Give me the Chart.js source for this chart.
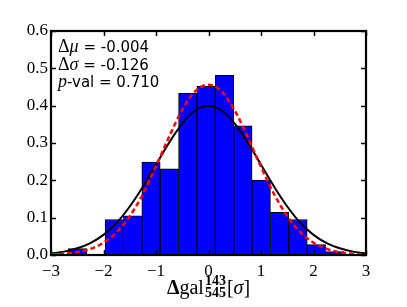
<!DOCTYPE html>
<html>
<head>
<meta charset="utf-8">
<script src="https://cdn.jsdelivr.net/npm/chart.js@4"></script>
<style>
  html, body { margin: 0; padding: 0; background: #fff; }
  #wrap { width: 407px; height: 307px; }
</style>
</head>
<body>
<div id="wrap"><canvas id="hist" width="407" height="307"></canvas></div>
<script>
// histogram bins (centres of 0.35-wide bins) and normalised counts
const binCenters = [-2.495, -2.145, -1.795, -1.445, -1.095, -0.745, -0.395, -0.045, 0.305, 0.655, 1.005, 1.355, 1.705, 2.055, 2.405];
const binHeights = [0.017, 0.0, 0.095, 0.105, 0.249, 0.231, 0.433, 0.452, 0.481, 0.346, 0.201, 0.114, 0.095, 0.028, 0.009];

const curveX = [-3, -2.75, -2.5, -2.25, -2, -1.75, -1.5, -1.25, -1, -0.75, -0.5, -0.25, 0, 0.25, 0.5, 0.75, 1, 1.25, 1.5, 1.75, 2, 2.25, 2.5, 2.75, 3];
const normalY = [0.004, 0.009, 0.018, 0.032, 0.054, 0.086, 0.130, 0.183, 0.242, 0.301, 0.352, 0.387, 0.399, 0.387, 0.352, 0.301, 0.242, 0.183, 0.130, 0.086, 0.054, 0.032, 0.018, 0.009, 0.004];
const fitY = [0.0013, 0.0032, 0.0075, 0.0164, 0.033, 0.061, 0.104, 0.163, 0.238, 0.317, 0.389, 0.439, 0.456, 0.438, 0.387, 0.315, 0.236, 0.163, 0.104, 0.061, 0.033, 0.0164, 0.0075, 0.0032, 0.0013];

const xTicks = [-3, -2, -1, 0, 1, 2, 3];
const yTicks = [0.0, 0.1, 0.2, 0.3, 0.4, 0.5, 0.6];
const statLines = [
    { sym: "\u0394", it: "\u03bc", rest: " = -0.004" },
    { sym: "\u0394", it: "\u03c3", rest: " = -0.126" },
    { sym: "", it: "p", rest: "-val = 0.710" }
];

const serif = "Liberation Serif";
const sans = "DejaVu Sans";

const frameAndText = {
    id: "frameAndText",
    afterDraw(chart) {
        const ctx = chart.ctx;
        const a = chart.chartArea;
        const xs = chart.scales.x, ys = chart.scales.y;
        ctx.save();
        // inward ticks on all sides
        ctx.strokeStyle = "#000";
        ctx.lineWidth = 1.5;
        ctx.beginPath();
        xTicks.forEach(v => {
            const px = Math.round(xs.getPixelForValue(v)) + 0.5;
            ctx.moveTo(px, a.bottom); ctx.lineTo(px, a.bottom - 5);
            ctx.moveTo(px, a.top); ctx.lineTo(px, a.top + 5);
        });
        yTicks.forEach(v => {
            const py = Math.round(ys.getPixelForValue(v)) + 0.5;
            ctx.moveTo(a.left, py); ctx.lineTo(a.left + 5, py);
            ctx.moveTo(a.right, py); ctx.lineTo(a.right - 5, py);
        });
        ctx.stroke();
        // frame
        ctx.lineWidth = 2.2;
        ctx.strokeRect(a.left, a.top, a.right - a.left, a.bottom - a.top);

        // statistics box text
        ctx.fillStyle = "#000";
        ctx.textBaseline = "alphabetic";
        ctx.textAlign = "left";
        statLines.forEach((ln, i) => {
            let x = a.left + 7;
            const y = a.top + 21 + i * 17.5;
            if (ln.sym) {
                ctx.font = "18px '" + serif + "'";
                ctx.fillText(ln.sym, x, y);
                x += ctx.measureText(ln.sym).width;
            }
            ctx.font = "italic 18px '" + serif + "'";
            ctx.fillText(ln.it, x, y);
            x += ctx.measureText(ln.it).width;
            ctx.font = "15px '" + sans + "'";
            ctx.fillText(ln.rest, x, y);
        });

        // x-axis title: Δgal^143_545[σ]
        const cx = (a.left + a.right) / 2;
        const by = 294;
        const big = "20px '" + serif + "'";
        const bigB = "bold 20px '" + serif + "'";
        const bigI = "italic 20px '" + serif + "'";
        const small = "bold 14px '" + serif + "'";
        ctx.font = bigB;
        let w = ctx.measureText("\u0394").width;
        ctx.font = big;
        w += ctx.measureText("gal").width;
        ctx.font = small;
        const supW = Math.max(ctx.measureText("143").width, ctx.measureText("545").width);
        w += supW + 2;
        ctx.font = big;
        w += ctx.measureText("[]").width;
        ctx.font = bigI;
        w += ctx.measureText("\u03c3").width;

        let x = cx - w / 2;
        ctx.font = bigB;
        ctx.fillText("\u0394", x, by);
        x += ctx.measureText("\u0394").width;
        ctx.font = big;
        ctx.fillText("gal", x, by);
        x += ctx.measureText("gal").width;
        ctx.font = small;
        ctx.fillText("143", x + 1, by - 9);
        ctx.fillText("545", x + 1, by + 3);
        x += supW + 2;
        ctx.font = big;
        ctx.fillText("[", x, by);
        x += ctx.measureText("[").width;
        ctx.font = bigI;
        ctx.fillText("\u03c3", x, by);
        x += ctx.measureText("\u03c3").width;
        ctx.font = big;
        ctx.fillText("]", x, by);
        ctx.restore();
    }
};

const ctx = document.getElementById("hist").getContext("2d");

new Chart(ctx, {
    type: "bar",
    data: {
        datasets: [
            {
                type: "line",
                data: curveX.map((x, i) => ({ x: x, y: fitY[i] })),
                borderColor: "#ff0000",
                borderWidth: 2.5,
                borderDash: [5, 3],
                pointRadius: 0,
                fill: false,
                cubicInterpolationMode: "monotone",
                order: 1
            },
            {
                type: "line",
                data: curveX.map((x, i) => ({ x: x, y: normalY[i] })),
                borderColor: "#000000",
                borderWidth: 2,
                pointRadius: 0,
                fill: false,
                cubicInterpolationMode: "monotone",
                order: 2
            },
            {
                type: "bar",
                data: binCenters.map((x, i) => ({ x: x, y: binHeights[i] })),
                backgroundColor: "#0000ff",
                borderColor: "#000000",
                borderWidth: 1,
                barPercentage: 1.0,
                categoryPercentage: 1.0,
                order: 3
            }
        ]
    },
    options: {
        responsive: false,
        animation: false,
        layout: { padding: { left: 0, right: 41, top: 31, bottom: 0 } },
        plugins: {
            legend: { display: false },
            tooltip: { enabled: false }
        },
        scales: {
            x: {
                type: "linear",
                min: -3,
                max: 3,
                offset: false,
                grid: { display: false, drawTicks: false },
                border: { display: false },
                ticks: {
                    stepSize: 1,
                    padding: 6,
                    color: "#000",
                    font: { family: serif, size: 17 },
                    callback: v => (v < 0 ? "\u2212" + Math.abs(v) : String(v))
                },
                afterFit(scale) { scale.height = 52; }
            },
            y: {
                min: 0,
                max: 0.6,
                grid: { display: false, drawTicks: false },
                border: { display: false },
                ticks: {
                    stepSize: 0.1,
                    padding: 3,
                    color: "#000",
                    font: { family: serif, size: 17 },
                    callback: v => v.toFixed(1)
                },
                afterFit(scale) { scale.width = 51; }
            }
        }
    },
    plugins: [frameAndText]
});
</script>
</body>
</html>
